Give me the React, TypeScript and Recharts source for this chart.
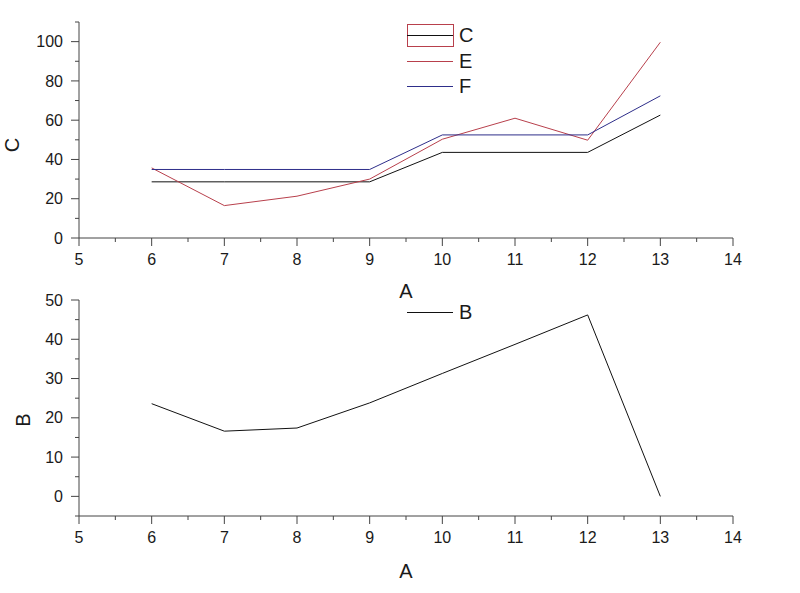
import { LineChart, Line, XAxis, YAxis, Label, Legend } from 'recharts';

// x values (A) shared by both panels
const A = [6, 7, 8, 9, 10, 11, 12, 13];
// upper panel series
const C = [28.6, 28.6, 28.6, 28.6, 43.6, 43.6, 43.6, 62.6];
const E = [35.7, 16.5, 21.3, 30.0, 50.3, 61.0, 49.8, 99.7];
const F = [34.9, 34.9, 34.9, 34.9, 52.5, 52.5, 52.5, 72.4];
// lower panel series
const B = [23.6, 16.6, 17.4, 23.8, 31.3, 38.7, 46.2, 0];

const xTicks = [5, 5.5, 6, 6.5, 7, 7.5, 8, 8.5, 9, 9.5, 10, 10.5, 11, 11.5, 12, 12.5, 13, 13.5, 14];
const topYTicks = [0, 10, 20, 30, 40, 50, 60, 70, 80, 90, 100, 110];
const bottomYTicks = [-5, 0, 5, 10, 15, 20, 25, 30, 35, 40, 45, 50];

const topRows = A.map((a, i) => ({ a, C: C[i], E: E[i], F: F[i] }));
const bottomRows = A.map((a, i) => ({ a, B: B[i] }));

const FONT = '"Liberation Sans", Arial, sans-serif';
const AXIS = '#444';
const TEXT = '#1a1a1a';
const RED = '#b8404c';
const BLUE = '#2e2e8a';
const TS = 8;
const TM = 8;

const XTick = (props: any) => {
  const { x, y, payload } = props;
  const v = payload.value;
  const major = v % 1 === 0;
  const y0 = y - TS - TM;
  return (
    <g>
      <line x1={x} x2={x} y1={y0} y2={y0 + (major ? TS : 4)} stroke={AXIS} />
      {major && (
        <text x={x} y={y} dy="0.71em" textAnchor="middle" fill={TEXT} fontSize={16} fontFamily={FONT}>
          {v}
        </text>
      )}
    </g>
  );
};

const makeYTick = (step: number) => (props: any) => {
  const { x, y, payload } = props;
  const v = payload.value;
  const major = v % step === 0;
  const x0 = x + TS + TM;
  return (
    <g>
      <line x1={x0 - (major ? TS : 4)} x2={x0} y1={y} y2={y} stroke={AXIS} />
      {major && (
        <text x={x} y={y} dy="0.355em" textAnchor="end" fill={TEXT} fontSize={16} fontFamily={FONT}>
          {v}
        </text>
      )}
    </g>
  );
};

const yTitle = (text: string, dx: number, dy: number) => (props: any) => {
  const vb = props.viewBox;
  const cx = vb.x + dx;
  const cy = vb.y + vb.height / 2 + dy;
  return (
    <text
      x={cx}
      y={cy}
      dy="0.355em"
      textAnchor="middle"
      transform={`rotate(-90 ${cx} ${cy})`}
      fill={TEXT}
      fontSize={20}
      fontFamily={FONT}
    >
      {text}
    </text>
  );
};

const renderLegend = (boxFirst: boolean) => (props: any) => {
  const { payload } = props;
  return (
    <div style={{ fontFamily: FONT, fontSize: 20, color: TEXT }}>
      {payload.map((p: any, i: number) => (
        <div key={p.value} style={{ display: 'flex', alignItems: 'center', height: 25.5 }}>
          <svg width={54} height={25}>
            {boxFirst && i === 0 && (
              <rect x={2.5} y={1.5} width={46} height={22} fill="none" stroke={RED} strokeWidth={1} />
            )}
            <line x1={2} x2={48} y1={12.5} y2={12.5} stroke={p.color} strokeWidth={1} />
          </svg>
          <span style={{ lineHeight: '25px' }}>{p.value}</span>
        </div>
      ))}
    </div>
  );
};

const lineProps = { type: 'linear' as const, dot: false, strokeWidth: 1, isAnimationActive: false };

export default function App() {
  return (
    <div style={{ position: 'absolute', left: 0, top: 0, width: 800, height: 593, background: '#fff' }}>
      <div style={{ position: 'absolute', left: 0, top: 280 }}>
        <LineChart width={800} height={313} data={bottomRows} margin={{ top: 20, right: 67, left: 0, bottom: 15 }}>
          <XAxis
            dataKey="a"
            type="number"
            domain={[5, 14]}
            ticks={xTicks}
            interval={0}
            height={62}
            tickSize={TS}
            tickMargin={TM}
            tickLine={false}
            tick={XTick}
            stroke={AXIS}
          >
            <Label value="A" position="insideBottom" offset={0} fill={TEXT} fontSize={20} fontFamily={FONT} />
          </XAxis>
          <YAxis
            type="number"
            domain={[-5, 50]}
            ticks={bottomYTicks}
            interval={0}
            width={79}
            tickSize={TS}
            tickMargin={TM}
            tickLine={false}
            tick={makeYTick(10)}
            stroke={AXIS}
          >
            <Label content={yTitle('B', 23, 12)} />
          </YAxis>
          <Legend
            layout="vertical"
            align="center"
            verticalAlign="middle"
            wrapperStyle={{ left: 405, top: 20, width: 'auto' }}
            content={renderLegend(false)}
          />
          <Line {...lineProps} dataKey="B" name="B" stroke="#111" />
        </LineChart>
      </div>
      <div style={{ position: 'absolute', left: 0, top: 0 }}>
        <LineChart width={800} height={312} data={topRows} margin={{ top: 22, right: 67, left: 0, bottom: 12 }}>
          <XAxis
            dataKey="a"
            type="number"
            domain={[5, 14]}
            ticks={xTicks}
            interval={0}
            height={62}
            tickSize={TS}
            tickMargin={TM}
            tickLine={false}
            tick={XTick}
            stroke={AXIS}
          >
            <Label value="A" position="insideBottom" offset={2} fill={TEXT} fontSize={20} fontFamily={FONT} />
          </XAxis>
          <YAxis
            type="number"
            domain={[0, 110]}
            ticks={topYTicks}
            interval={0}
            width={79}
            tickSize={TS}
            tickMargin={TM}
            tickLine={false}
            tick={makeYTick(20)}
            stroke={AXIS}
          >
            <Label content={yTitle('C', 12, 15)} />
          </YAxis>
          <Legend
            layout="vertical"
            align="center"
            verticalAlign="middle"
            wrapperStyle={{ left: 405, top: 23, width: 'auto' }}
            content={renderLegend(true)}
          />
          <Line {...lineProps} dataKey="C" name="C" stroke="#111" />
          <Line {...lineProps} dataKey="E" name="E" stroke={RED} />
          <Line {...lineProps} dataKey="F" name="F" stroke={BLUE} />
        </LineChart>
      </div>
    </div>
  );
}
